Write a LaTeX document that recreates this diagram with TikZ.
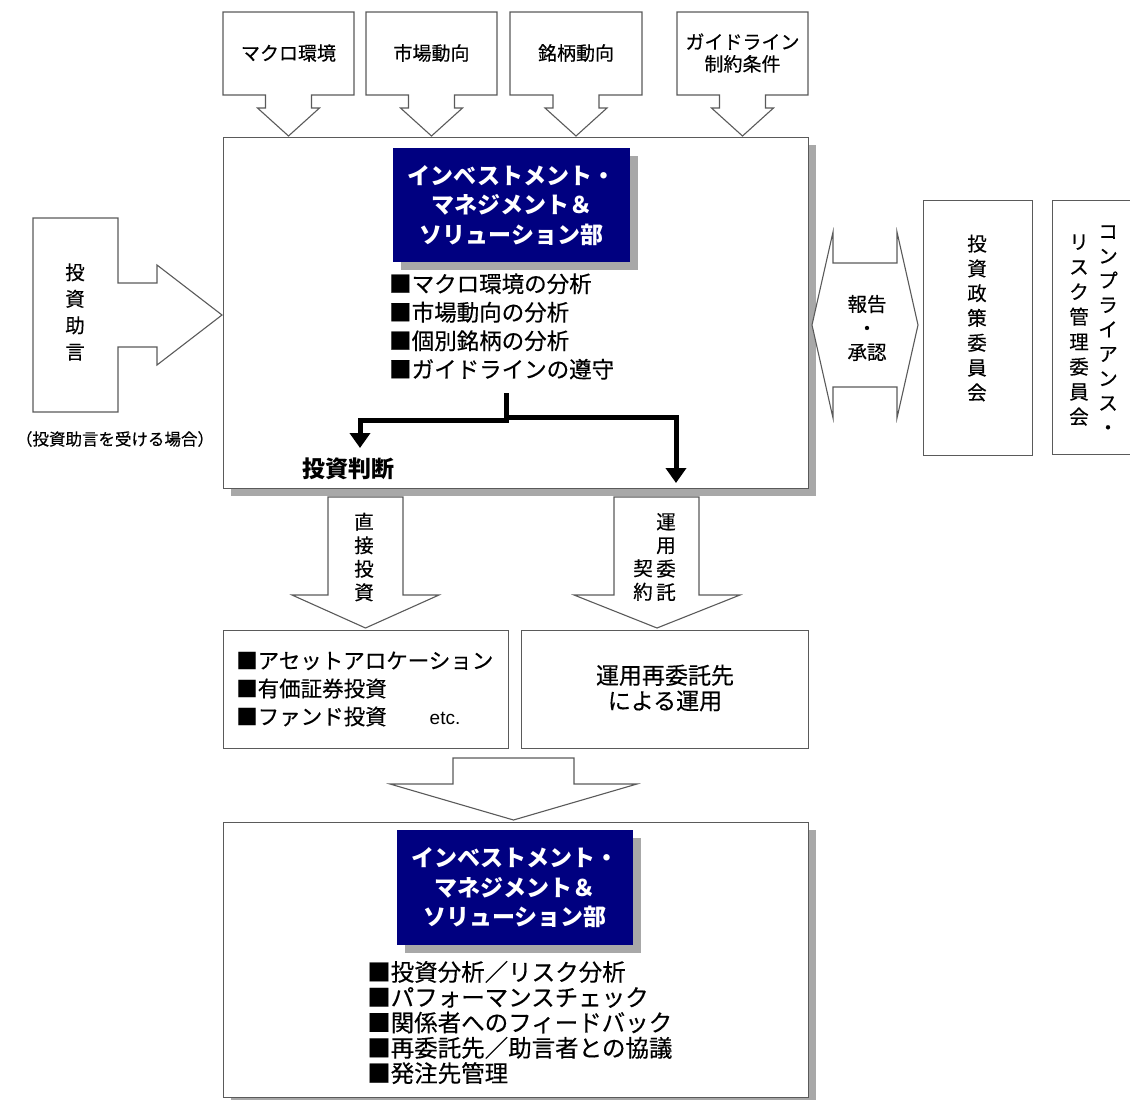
\documentclass[tikz,border=0pt]{standalone}
\usepackage{fontspec}
\setmainfont{Noto Sans CJK JP}[UprightFeatures={FakeBold=0.35}]
\newfontfamily\latinfont{Liberation Sans}
\usetikzlibrary{arrows.meta,shadows}
\definecolor{navy}{HTML}{000080}
\definecolor{shade}{HTML}{A8A8A8}
\definecolor{edge}{HTML}{5A5A5A}
\newcommand\fsz[2]{\fontsize{#1}{#2}\selectfont}
\tikzset{
  blockshape/.style={draw=edge, line width=1.1pt, fill=white, line join=miter},
  plainbox/.style={draw=edge, line width=1.1pt, fill=white, inner sep=0, anchor=north west},
  bigbox/.style={plainbox, drop shadow={shadow xshift=7pt, shadow yshift=-7pt, fill=shade, opacity=1}},
  navybox/.style={fill=navy, draw=none, inner sep=0, anchor=north west, text=white, align=center,
    font=\fsz{23}{29.5}\bfseries,
    drop shadow={shadow xshift=8pt, shadow yshift=-8pt, fill=shade, opacity=1}},
  txt/.style={inner sep=0, align=center},
  listtxt/.style={inner sep=0, align=left, anchor=west},
  blackarrow/.style={line width=5pt, -{Triangle[length=15pt,width=20pt]}},
}
\begin{document}
\begin{tikzpicture}[x=1pt,y=-1pt]
\useasboundingbox (0,0) rectangle (1130,1100);

% top callout boxes with down arrows
\foreach \nm/\xa/\xb/\txt in {macro/223/354/マクロ環境, market/366/497/市場動向, stock/510/642/銘柄動向, guide/677/808/{ガイドライン\\制約条件}}{
  \pgfmathsetmacro\c{(\xa+\xb)/2}
  \draw[blockshape] (\xa,12) -- (\xb,12) -- (\xb,95) -- (\c+23,95) -- (\c+23,108) -- (\c+31,108)
     -- (\c,136) -- (\c-31,108) -- (\c-23,108) -- (\c-23,95) -- (\xa,95) -- cycle;
  \node[txt, font=\fsz{19}{22}] (top-\nm) at (\c,53) {\txt};
}

% main box
\node[bigbox, minimum width=585pt, minimum height=351pt] (main) at (223,137) {};
\node[navybox, minimum width=237pt, minimum height=114pt] (head1) at (393,148)
  {インベストメント・\\マネジメント＆\\ソリューション部};
\node[listtxt, font=\fsz{22.5}{28.5}] (list1) at (389,326.5)
  {■マクロ環境の分析\\■市場動向の分析\\■個別銘柄の分析\\■ガイドラインの遵守};

% black decision arrows
\coordinate (split) at (506,393);
\coordinate (lefttip) at (360,448);
\coordinate (righttip) at (676,483);
\draw[blackarrow] (split) -- ++(0,27) -| (lefttip);
\draw[blackarrow] (split) -- ++(0,24) -| (righttip);
\node[txt, font=\fsz{23}{24}\bfseries] (judge) at (348,469) {投資判断};

% left callout: investment advice
\draw[blockshape] (33,218) -- (118,218) -- (118,283) -- (157,283) -- (157,265) -- (222,315)
   -- (157,365) -- (157,347) -- (118,347) -- (118,412) -- (33,412) -- cycle;
\node[txt, font=\fsz{19.5}{26.5}] (advice) at (75,312) {投\\資\\助\\言};
\node[txt, font=\fsz{16.5}{20}] (advicenote) at (115,439) {（投資助言を受ける場合）};

% double arrow report/approval
\draw[blockshape] (812,325) -- (833,232) -- (833,263) -- (897,263) -- (897,232) -- (918,325)
   -- (897,418) -- (897,387) -- (833,387) -- (833,418) -- cycle;
\node[txt, font=\fsz{19.5}{24}] (report) at (867,328) {報告\\・\\承認};

% committees
\node[plainbox, minimum width=109pt, minimum height=255pt] (policy) at (923,200) {};
\node[txt, font=\fsz{19.5}{24.8}] (policytxt) at (977,318) {投\\資\\政\\策\\委\\員\\会};
\node[plainbox, minimum width=90pt, minimum height=254pt] (comp) at (1052,200) {};
\node[txt, font=\fsz{19.5}{24.5}] (comptxtA) at (1108,330) {コ\\ン\\プ\\ラ\\イ\\ア\\ン\\ス\\・};
\node[txt, font=\fsz{19.5}{25}] (comptxtB) at (1079,330) {リ\\ス\\ク\\管\\理\\委\\員\\会};

% direct investment arrow
\draw[blockshape] (328,497) -- (403,497) -- (403,595) -- (439,595) -- (365.5,628) -- (292,595)
   -- (328,595) -- cycle;
\node[txt, font=\fsz{19.5}{23.5}] (direct) at (364,557) {直\\接\\投\\資};

% delegation arrow
\draw[blockshape] (614,497) -- (699,497) -- (699,595) -- (740,595) -- (657,628) -- (574,595)
   -- (614,595) -- cycle;
\node[txt, font=\fsz{19.5}{23.5}] (delegA) at (666,557) {運\\用\\委\\託};
\node[txt, font=\fsz{19.5}{23.5}] (delegB) at (643,580) {契\\約};

% result boxes
\node[plainbox, minimum width=285pt, minimum height=118pt] (direct box) at (223,630) {};
\node[listtxt, font=\fsz{21.5}{28}] (list2) at (236,689)
  {■アセットアロケーション\\■有価証券投資\\■ファンド投資\hspace{2em}{\latinfont\fsz{19}{28}etc.}};
\node[plainbox, minimum width=287pt, minimum height=118pt] (sub box) at (521,630) {};
\node[txt, font=\fsz{23}{25.5}] (subtxt) at (665,688) {運用再委託先\\による運用};

% big down arrow
\draw[blockshape] (453,758) -- (574,758) -- (574,784) -- (637,784) -- (513.5,820) -- (390,784)
   -- (453,784) -- cycle;

% bottom box
\node[bigbox, minimum width=585pt, minimum height=275pt] (bottom) at (223,822) {};
\node[navybox, minimum width=236pt, minimum height=115pt] (head2) at (397,830)
  {インベストメント・\\マネジメント＆\\ソリューション部};
\node[listtxt, font=\fsz{23.5}{25.3}] (list3) at (367,1022.5)
  {■投資分析／リスク分析\\■パフォーマンスチェック\\■関係者へのフィードバック\\■再委託先／助言者との協議\\■発注先管理};
\end{tikzpicture}
\end{document}
